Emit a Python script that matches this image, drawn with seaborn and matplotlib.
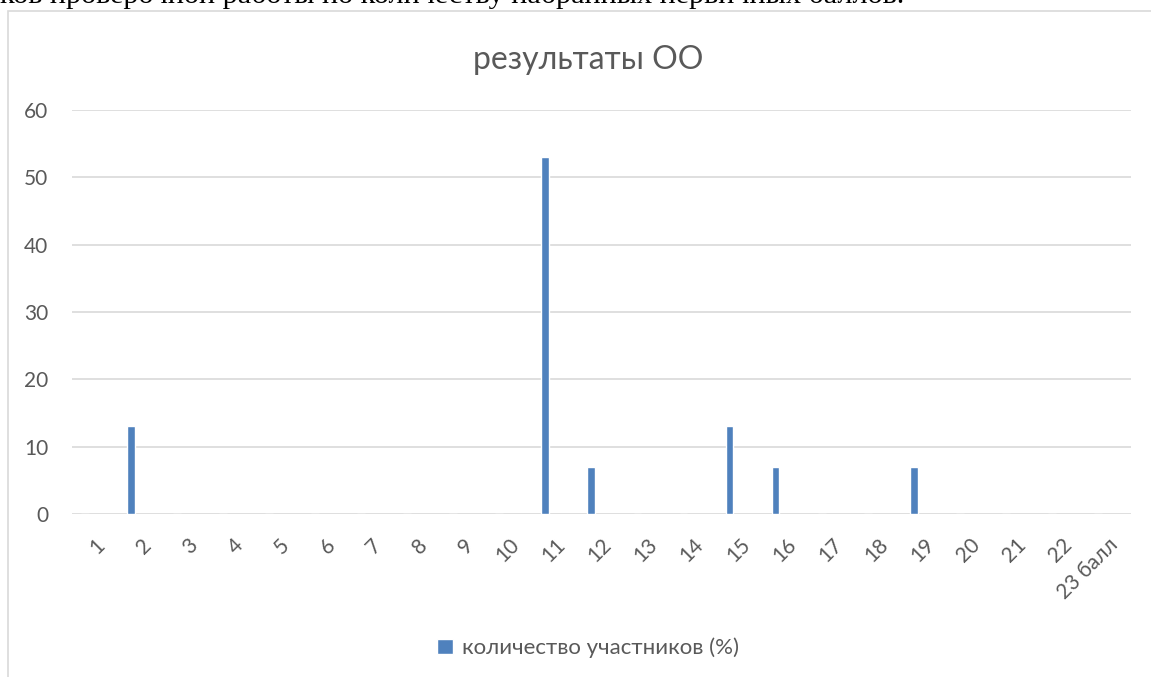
import matplotlib
matplotlib.use('Agg')
import matplotlib.pyplot as plt
import seaborn as sns
from matplotlib.patches import Patch, Rectangle

# data
categories = [str(i) for i in range(1, 23)] + ['23 балл']
values = [0, 13, 0, 0, 0, 0, 0, 0, 0, 0, 53, 7, 0, 0, 13, 7, 0, 0, 7, 0, 0, 0, 0]
series_name = 'количество участников (%)'
title = 'результаты ОО'
header = 'ков проверочной работы по количеству набранных первичных баллов.'

sns.set_theme(style='white')
plt.rcParams['font.family'] = ['Lato', 'Open Sans', 'DejaVu Sans']

bar_color = '#4F81BD'
grid_color = '#D9D9D9'
text_color = '#595959'

fig = plt.figure(figsize=(11.51, 6.77), dpi=100)

# chart frame (cut by the page at right and bottom)
frame = Rectangle((8 / 1151, -0.1), 1.2, 1 - 11 / 677 + 0.1,
                  transform=fig.transFigure, fill=False,
                  edgecolor=grid_color, linewidth=1.2)
fig.patches.append(frame)

# document text above the chart, cut at the top
fig.text(0.0, 1 - 3 / 677, header, family=['Liberation Serif'],
         fontsize=21.7, color='black', va='baseline', ha='left')

ax = fig.add_axes([72 / 1151, 1 - 514 / 677, (1131 - 72) / 1151, (514 - 110) / 677])
sns.barplot(x=categories, y=values, color=bar_color, width=0.17,
            saturation=1, ax=ax)
# the series sits left of the category centre, as in a clustered chart
for p in ax.patches:
    p.set_x(p.get_x() - 0.22)

ax.set_ylim(0, 60)
ax.set_yticks(range(0, 61, 10))
ax.set_xlim(-0.5, len(categories) - 0.5)
ax.yaxis.grid(True, color=grid_color, linewidth=1.2)
ax.set_axisbelow(True)
for s in ax.spines.values():
    s.set_visible(False)
ax.tick_params(axis='both', length=0, colors=text_color, labelsize=15)
ax.tick_params(axis='y', pad=17)
ax.tick_params(axis='x', pad=15)
plt.setp(ax.get_xticklabels(), rotation=45, ha='right', rotation_mode='anchor')

fig.text(588 / 1151, 1 - 60 / 677, title, fontsize=23, color=text_color,
         ha='center', va='center')

fig.legend(handles=[Patch(facecolor=bar_color, label=series_name)],
           loc='center', bbox_to_anchor=(588 / 1151, 1 - 648 / 677),
           frameon=False, fontsize=16, labelcolor=text_color,
           handlelength=0.7, handleheight=0.7, handletextpad=0.4)

fig.savefig('out.png', dpi=100)
